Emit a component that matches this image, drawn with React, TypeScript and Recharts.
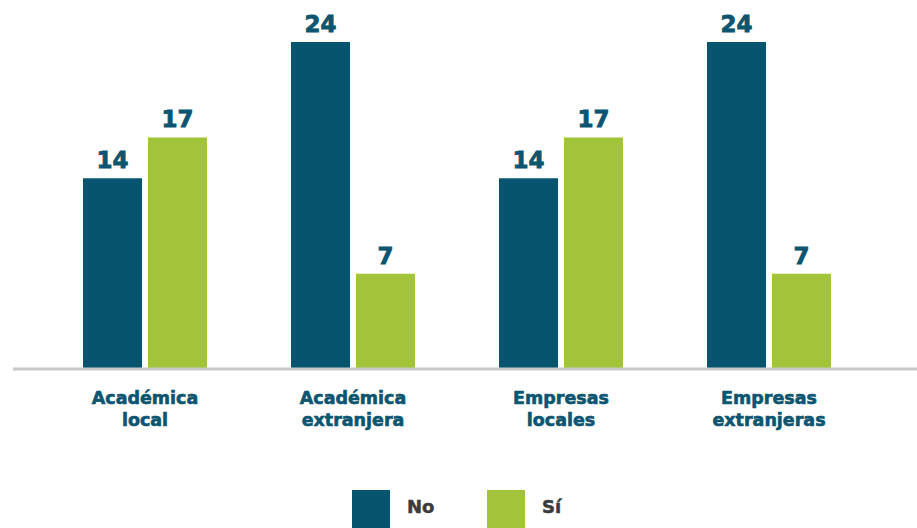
import { BarChart, Bar, XAxis, YAxis, LabelList } from "recharts";

const categories = [
  "Académica local",
  "Académica extranjera",
  "Empresas locales",
  "Empresas extranjeras",
];
const noValues = [14, 24, 14, 24];
const siValues = [17, 7, 17, 7];
const seriesNames = ["No", "Sí"];
const seriesColors = ["#07546e", "#a2c43a"];

const data = categories.map((c, i) => ({
  name: c,
  no: noValues[i],
  si: siValues[i],
}));

const FONT = "'DejaVu Sans', sans-serif";
const TEAL = "#0b5570";

function CategoryTick(props: any) {
  const { x, y, payload } = props;
  const text: string = payload.value;
  const idx = text.indexOf(" ");
  const lines = [text.slice(0, idx), text.slice(idx + 1)];
  return (
    <g transform={`translate(${x},${y})`}>
      {lines.map((l, i) => (
        <text
          key={i}
          x={0}
          y={35 + i * 22}
          textAnchor="middle"
          fill={TEAL}
          stroke={TEAL}
          strokeWidth={0.6}
          fontFamily={FONT}
          fontWeight="bold"
          fontSize={17.5}
        >
          {l}
        </text>
      ))}
    </g>
  );
}

export default function App() {
  return (
    <div
      style={{
        position: "absolute",
        left: 0,
        top: 0,
        width: 917,
        height: 528,
        background: "#fff",
        fontFamily: FONT,
      }}
    >
      <BarChart
        width={917}
        height={528}
        data={data}
        margin={{ top: 42, right: 0, left: 13, bottom: 129 }}
        barCategoryGap={42}
        barGap={6}
      >
        <XAxis
          dataKey="name"
          height={30}
          padding={{ left: 28, right: 44 }}
          axisLine={{ stroke: "#c8c8c8", strokeWidth: 3 }}
          tickLine={false}
          tickSize={0}
          tickMargin={0}
          interval={0}
          tick={<CategoryTick />}
        />
        <YAxis hide domain={[0, 24]} />
        <Bar dataKey="no" fill={seriesColors[0]} isAnimationActive={false}>
          <LabelList
            dataKey="no"
            position="top"
            offset={10}
            fill={TEAL}
            stroke={TEAL}
            strokeWidth={0.8}
            fontFamily={FONT}
            fontWeight="bold"
            fontSize={23}
          />
        </Bar>
        <Bar dataKey="si" fill={seriesColors[1]} isAnimationActive={false}>
          <LabelList
            dataKey="si"
            position="top"
            offset={10}
            fill={TEAL}
            stroke={TEAL}
            strokeWidth={0.8}
            fontFamily={FONT}
            fontWeight="bold"
            fontSize={23}
          />
        </Bar>
      </BarChart>
      {seriesNames.map((n, i) => (
        <div key={n}>
          <div
            style={{
              position: "absolute",
              left: 352 + i * 135,
              top: 490,
              width: 38,
              height: 38,
              background: seriesColors[i],
            }}
          />
          <div
            style={{
              position: "absolute",
              left: 407 + i * 135,
              top: 496,
              fontSize: 18,
              fontWeight: "bold",
              color: "#3b3b3b",
              lineHeight: "22px",
              WebkitTextStroke: "0.5px #3b3b3b",
            }}
          >
            {n}
          </div>
        </div>
      ))}
    </div>
  );
}
